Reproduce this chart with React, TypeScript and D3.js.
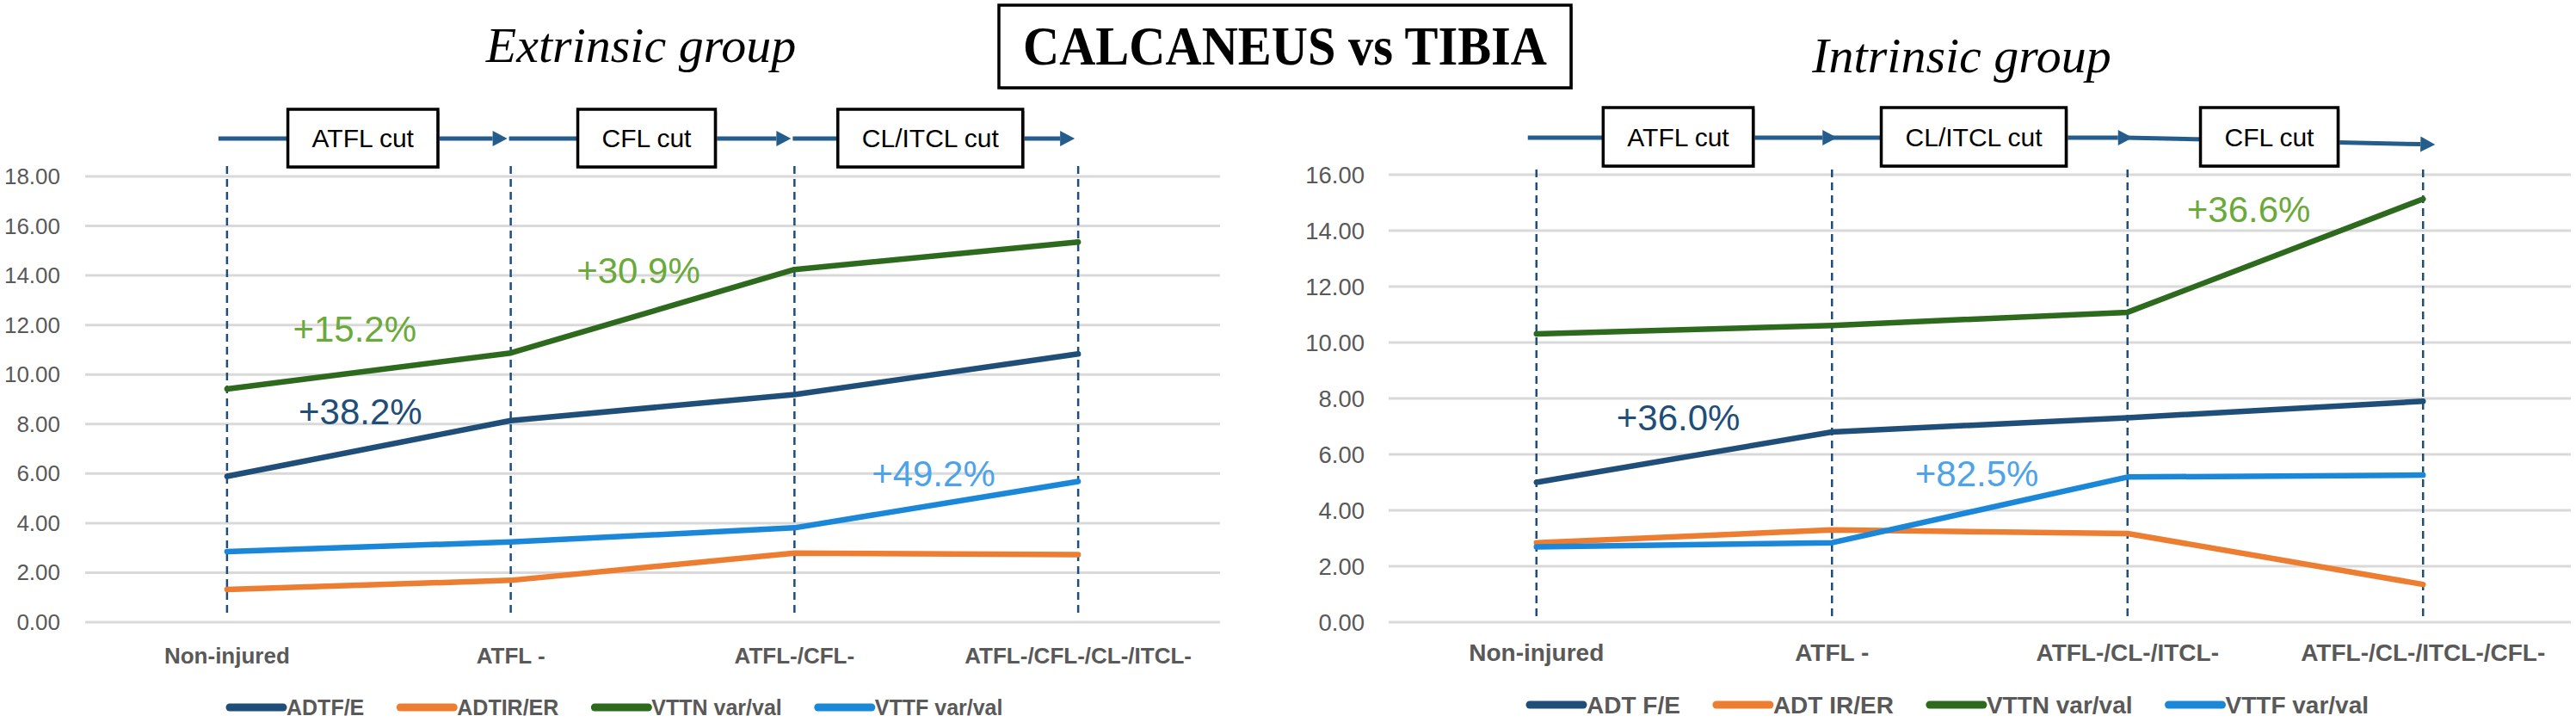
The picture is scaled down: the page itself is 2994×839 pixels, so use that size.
import React, { useRef, useEffect } from "react";
import * as d3 from "d3";

// ---- data ----
const extrinsicCategories = ["Non-injured", "ATFL -", "ATFL-/CFL-", "ATFL-/CFL-/CL-/ITCL-"];
const intrinsicCategories = ["Non-injured", "ATFL -", "ATFL-/CL-/ITCL-", "ATFL-/CL-/ITCL-/CFL-"];

const extrinsicLegend = ["ADTF/E", "ADTIR/ER", "VTTN var/val", "VTTF var/val"];
const intrinsicLegend = ["ADT F/E", "ADT IR/ER", "VTTN var/val", "VTTF var/val"];

const extrinsicADTFE = [5.89, 8.14, 9.19, 10.83];
const extrinsicADTIRER = [1.32, 1.69, 2.79, 2.73];
const extrinsicVTTN = [9.42, 10.87, 14.24, 15.35];
const extrinsicVTTF = [2.85, 3.24, 3.81, 5.68];

const intrinsicADTFE = [5.0, 6.8, 7.31, 7.9];
const intrinsicADTIRER = [2.84, 3.3, 3.17, 1.35];
const intrinsicVTTN = [10.31, 10.61, 11.08, 15.13];
const intrinsicVTTF = [2.69, 2.84, 5.19, 5.26];

const extrinsicTicks = [0, 2, 4, 6, 8, 10, 12, 14, 16, 18];
const intrinsicTicks = [0, 2, 4, 6, 8, 10, 12, 14, 16];

const extrinsicCuts = ["ATFL cut", "CFL cut", "CL/ITCL cut"];
const intrinsicCuts = ["ATFL cut", "CL/ITCL cut", "CFL cut"];

// annotation: text, series index, position along the categories, value level
const extrinsicNotes = [
  { text: "+15.2%", series: 2, pos: 0.45, value: 11.84 },
  { text: "+38.2%", series: 0, pos: 0.47, value: 8.51 },
  { text: "+30.9%", series: 2, pos: 1.45, value: 14.2 },
  { text: "+49.2%", series: 3, pos: 2.49, value: 6.01 },
];
const intrinsicNotes = [
  { text: "+36.0%", series: 0, pos: 0.48, value: 7.32 },
  { text: "+82.5%", series: 3, pos: 1.49, value: 5.32 },
  { text: "+36.6%", series: 2, pos: 2.41, value: 14.74 },
];

const seriesColors = ["#1F4E79", "#ED7D31", "#2E6A1E", "#1B87D9"];
const noteColors = ["#1F4E79", "#ED7D31", "#6AAA3A", "#4DA3E8"];

const SANS = "'Liberation Sans', Arial, sans-serif";
const SERIF = "'Liberation Serif', 'Times New Roman', serif";

interface Panel {
  title: string;
  categories: string[];
  series: number[][];
  legend: string[];
  ticks: number[];
  cuts: string[];
  notes: { text: string; series: number; pos: number; value: number }[];
  x0: number; x1: number; yTop: number; yBottom: number;
  tickX: number; tickFont: number;
  catY: number; catFont: number;
  legendY: number; legendFont: number; legendStart: number;
  arrowY: number; arrowDrop: number; tipOffset: number;
  boxTop: number; boxBottom: number;
  titleX: number; titleY: number; dashTop: number;
}

const panels: Panel[] = [
  {
    title: "Extrinsic group",
    categories: extrinsicCategories,
    series: [extrinsicADTFE, extrinsicADTIRER, extrinsicVTTN, extrinsicVTTF],
    legend: extrinsicLegend,
    ticks: extrinsicTicks,
    cuts: extrinsicCuts,
    notes: extrinsicNotes,
    x0: 99, x1: 1418, yTop: 205, yBottom: 723,
    tickX: 70, tickFont: 26,
    catY: 762, catFont: 26,
    legendY: 822, legendFont: 25, legendStart: 263,
    arrowY: 161, arrowDrop: 0, tipOffset: -4,
    boxTop: 127, boxBottom: 194,
    titleX: 745, titleY: 72, dashTop: 193,
  },
  {
    title: "Intrinsic group",
    categories: intrinsicCategories,
    series: [intrinsicADTFE, intrinsicADTIRER, intrinsicVTTN, intrinsicVTTF],
    legend: intrinsicLegend,
    ticks: intrinsicTicks,
    cuts: intrinsicCuts,
    notes: intrinsicNotes,
    x0: 1614, x1: 2988, yTop: 203, yBottom: 723,
    tickX: 1586, tickFont: 27.5,
    catY: 758, catFont: 28,
    legendY: 819, legendFont: 28, legendStart: 1774,
    arrowY: 160, arrowDrop: 8, tipOffset: 6,
    boxTop: 125, boxBottom: 193,
    titleX: 2280, titleY: 84, dashTop: 197,
  },
];

const drawPanel = (svg: d3.Selection<SVGSVGElement, unknown, null, undefined>, p: Panel) => {
  const g = svg.append("g");
  const yMax = p.ticks[p.ticks.length - 1];

  const x = d3.scalePoint<string>().domain(p.categories).range([p.x0, p.x1]).padding(0.5);
  const y = d3.scaleLinear().domain([0, yMax]).range([p.yBottom, p.yTop]);
  const step = x.step();
  const xPos = (pos: number) => (x(p.categories[0]) as number) + pos * step;

  // group title
  g.append("text")
    .attr("x", p.titleX)
    .attr("y", p.titleY)
    .attr("text-anchor", "middle")
    .style("font-family", SERIF)
    .style("font-style", "italic")
    .style("font-size", "58px")
    .style("fill", "#000")
    .text(p.title);

  // gridlines
  g.selectAll(".grid")
    .data(p.ticks)
    .enter()
    .append("line")
    .attr("x1", p.x0)
    .attr("x2", p.x1)
    .attr("y1", d => y(d))
    .attr("y2", d => y(d))
    .attr("stroke", "#D9D9D9")
    .attr("stroke-width", 3);

  // y tick labels
  g.selectAll(".tick")
    .data(p.ticks)
    .enter()
    .append("text")
    .attr("x", p.tickX)
    .attr("y", d => y(d))
    .attr("text-anchor", "end")
    .attr("dominant-baseline", "central")
    .style("font-family", SANS)
    .style("font-size", `${p.tickFont}px`)
    .style("fill", "#595959")
    .text(d => d3.format(".2f")(d));

  // category labels
  g.selectAll(".cat")
    .data(p.categories)
    .enter()
    .append("text")
    .attr("x", d => x(d) as number)
    .attr("y", p.catY)
    .attr("text-anchor", "middle")
    .attr("dominant-baseline", "central")
    .style("font-family", SANS)
    .style("font-weight", "bold")
    .style("font-size", `${p.catFont}px`)
    .style("fill", "#595959")
    .text(d => d);

  // dashed stage lines
  g.selectAll(".stage")
    .data(p.categories)
    .enter()
    .append("line")
    .attr("x1", d => x(d) as number)
    .attr("x2", d => x(d) as number)
    .attr("y1", p.dashTop)
    .attr("y2", p.yBottom - 5)
    .attr("stroke", "#1F4E79")
    .attr("stroke-width", 2.5)
    .attr("stroke-dasharray", "9 6");

  // series lines
  const line = d3.line<number>()
    .x((_, i) => x(p.categories[i]) as number)
    .y(d => y(d));

  p.series.forEach((values, si) => {
    g.append("path")
      .datum(values)
      .attr("d", line)
      .attr("fill", "none")
      .attr("stroke", seriesColors[si])
      .attr("stroke-width", 6.5)
      .attr("stroke-linejoin", "round")
      .attr("stroke-linecap", "round");
  });

  // percent notes
  g.selectAll(".note")
    .data(p.notes)
    .enter()
    .append("text")
    .attr("x", d => xPos(d.pos))
    .attr("y", d => y(d.value))
    .attr("text-anchor", "middle")
    .attr("dominant-baseline", "central")
    .style("font-family", SANS)
    .style("font-size", "42px")
    .style("fill", d => noteColors[d.series])
    .text(d => d.text);

  // stage arrows with cut boxes
  p.cuts.forEach((label, i) => {
    const last = i === p.cuts.length - 1;
    const start = i === 0 ? (x(p.categories[0]) as number) - 10 : (x(p.categories[i]) as number) - 2;
    const tip = (x(p.categories[i + 1]) as number) + p.tipOffset + (last ? p.arrowDrop : 0);
    const y0 = p.arrowY;
    const y1 = p.arrowY + (last ? p.arrowDrop : 0);
    const ang = Math.atan2(y1 - y0, tip - start);
    const hl = 17, hw = 9;
    const bx = tip - hl * Math.cos(ang), by = y1 - hl * Math.sin(ang);

    g.append("line")
      .attr("x1", start).attr("y1", y0)
      .attr("x2", bx).attr("y2", by)
      .attr("stroke", "#245D8C")
      .attr("stroke-width", 5);

    g.append("path")
      .attr("d", `M${tip},${y1} L${bx - hw * Math.sin(ang)},${by + hw * Math.cos(ang)} L${bx + hw * Math.sin(ang)},${by - hw * Math.cos(ang)} Z`)
      .attr("fill", "#245D8C");

    const mid = ((x(p.categories[i]) as number) + (x(p.categories[i + 1]) as number)) / 2 - 7;
    const cy = (p.boxTop + p.boxBottom) / 2;
    const shadow = g.append("rect");
    const rect = g.append("rect");
    const txt = g.append("text")
      .attr("x", mid)
      .attr("y", cy)
      .attr("text-anchor", "middle")
      .attr("dominant-baseline", "central")
      .style("font-family", SANS)
      .style("font-size", "30px")
      .style("fill", "#000")
      .text(label);
    const w = (txt.node() as SVGTextElement).getComputedTextLength() + 56;
    shadow
      .attr("x", mid - w / 2 + 2).attr("y", p.boxTop + 2)
      .attr("width", w).attr("height", p.boxBottom - p.boxTop)
      .attr("fill", "#8c8c8c");
    rect
      .attr("x", mid - w / 2).attr("y", p.boxTop)
      .attr("width", w).attr("height", p.boxBottom - p.boxTop)
      .attr("fill", "#fff")
      .attr("stroke", "#000")
      .attr("stroke-width", 3.5);
  });

  // legend
  let lx = p.legendStart;
  p.legend.forEach((name, si) => {
    g.append("line")
      .attr("x1", lx + 4).attr("x2", lx + 66)
      .attr("y1", p.legendY).attr("y2", p.legendY)
      .attr("stroke", seriesColors[si])
      .attr("stroke-width", 9)
      .attr("stroke-linecap", "round");
    const t = g.append("text")
      .attr("x", lx + 70)
      .attr("y", p.legendY)
      .attr("dominant-baseline", "central")
      .style("font-family", SANS)
      .style("font-weight", "bold")
      .style("font-size", `${p.legendFont}px`)
      .style("fill", "#595959")
      .text(name);
    lx += 70 + (t.node() as SVGTextElement).getComputedTextLength() + 38;
  });
};

const App: React.FC = () => {
  const svgRef = useRef<SVGSVGElement>(null);

  useEffect(() => {
    if (!svgRef.current) return;
    const svg = d3.select(svgRef.current);
    svg.selectAll("*").remove();

    svg.append("rect").attr("width", 2994).attr("height", 839).attr("fill", "#fff");

    panels.forEach(p => drawPanel(svg, p));

    // main title
    svg.append("rect")
      .attr("x", 1163).attr("y", 8)
      .attr("width", 665).attr("height", 96)
      .attr("fill", "#8c8c8c");
    svg.append("rect")
      .attr("x", 1161).attr("y", 6)
      .attr("width", 665).attr("height", 96)
      .attr("fill", "#fff")
      .attr("stroke", "#000")
      .attr("stroke-width", 3.5);
    svg.append("text")
      .attr("x", 1493.5)
      .attr("y", 75)
      .attr("text-anchor", "middle")
      .attr("textLength", 609)
      .attr("lengthAdjust", "spacingAndGlyphs")
      .style("font-family", SERIF)
      .style("font-weight", "bold")
      .style("font-size", "63px")
      .style("fill", "#000")
      .text("CALCANEUS vs TIBIA");
  }, []);

  return (
    <div style={{ position: "absolute", left: 0, top: 0 }}>
      <svg ref={svgRef} width={2994} height={839} viewBox="0 0 2994 839" />
    </div>
  );
};

export default App;
